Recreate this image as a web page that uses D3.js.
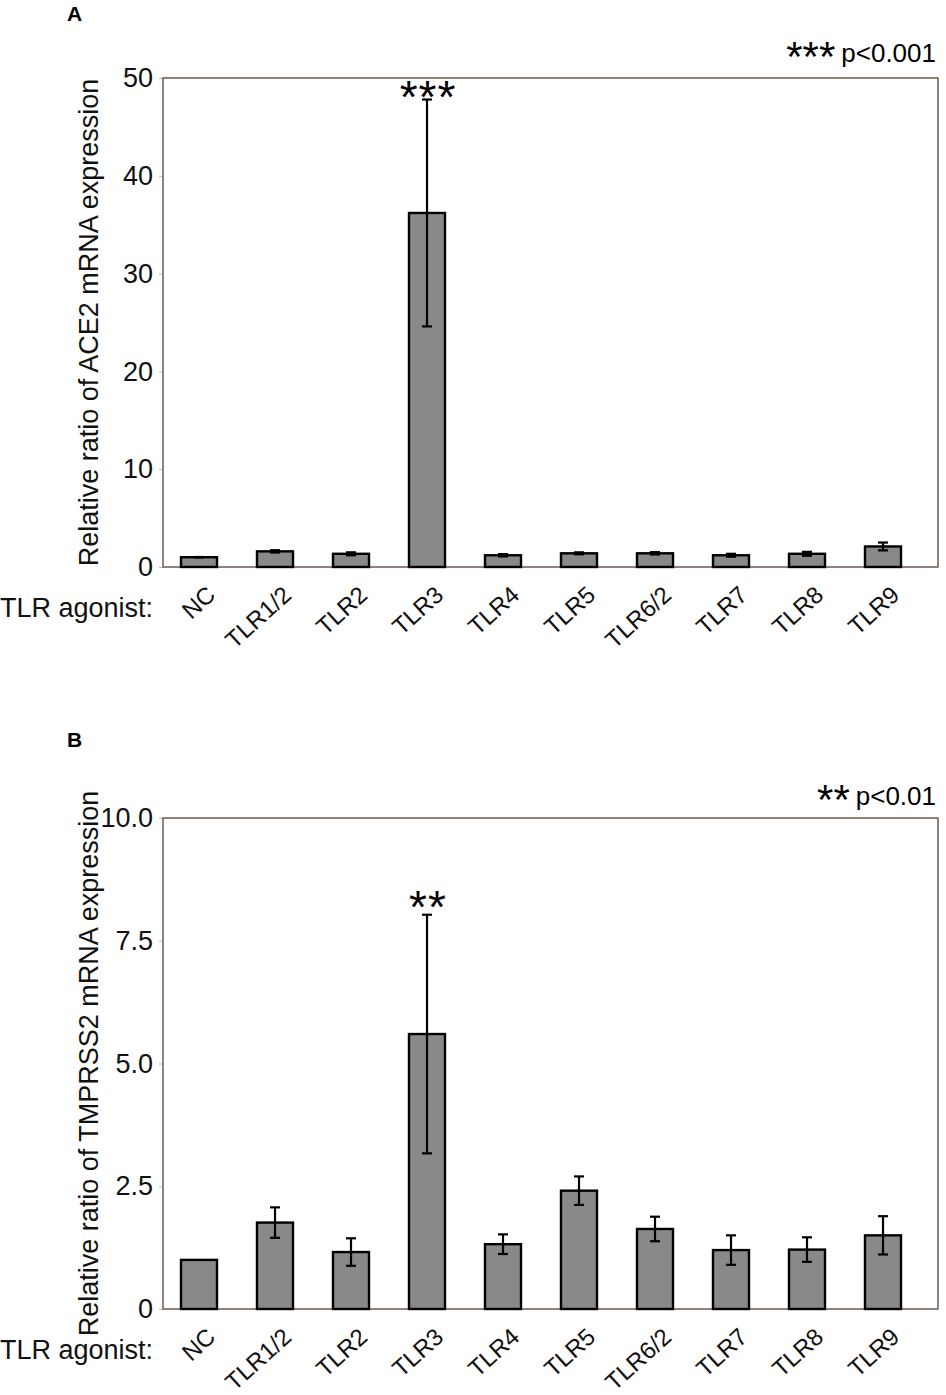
<!DOCTYPE html>
<html>
<head>
<meta charset="utf-8">
<script src="https://cdn.jsdelivr.net/npm/d3@7"></script>
<style>
  body { margin: 0; background: #fff; }
  svg { display: block; font-family: "Liberation Sans", Arial, sans-serif; }
</style>
</head>
<body>
<svg id="chart" width="946" height="1395"></svg>
<script>
// categories shared by both panels
const agonists = ['NC', 'TLR1/2', 'TLR2', 'TLR3', 'TLR4', 'TLR5', 'TLR6/2', 'TLR7', 'TLR8', 'TLR9']

// panel A: ACE2
const ace2Mean = [1.0, 1.6, 1.35, 36.2, 1.2, 1.4, 1.4, 1.2, 1.35, 2.1]
const ace2Err = [0.02, 0.12, 0.15, 11.6, 0.12, 0.1, 0.12, 0.15, 0.2, 0.4]
const ace2Ticks = [0, 10, 20, 30, 40, 50]

// panel B: TMPRSS2
const tmprssMean = [1.0, 1.76, 1.16, 5.6, 1.32, 2.41, 1.63, 1.2, 1.21, 1.5]
const tmprssErr = [0.0, 0.31, 0.28, 2.43, 0.2, 0.29, 0.25, 0.3, 0.25, 0.39]
const tmprssTicks = [0, 2.5, 5.0, 7.5, 10.0]

const svg = d3.select('#chart')
const frameColor = '#6e5b4e'
const fs = 27

function drawPanel(opts) {
    const { top, bottom, letter, letterY, yMax, ticks, fmt, means, errs, title, sigIndex, stars, starOffset, pText, pBaseline } = opts
    const left = 163, right = 938

    const x = d3.scalePoint().domain(agonists).range([161, 921]).padding(0.5)
    const y = d3.scaleLinear().domain([0, yMax]).range([bottom, top])
    const barW = 36

    const g = svg.append('g')

    g.append('text')
        .attr('x', 67).attr('y', letterY)
        .attr('font-size', 21).attr('font-weight', 'bold')
        .text(letter)

    // y axis
    const yAxis = g.append('g')
        .attr('transform', `translate(${left},0)`)
        .call(d3.axisLeft(y).tickValues(ticks).tickFormat(fmt).tickSize(4).tickPadding(6))
    yAxis.select('.domain').remove()
    yAxis.selectAll('.tick line').attr('stroke', '#bbb')
    yAxis.selectAll('.tick text').attr('font-size', fs).attr('fill', '#111')
        .attr('font-family', '"Liberation Sans", Arial, sans-serif')

    // frame
    g.append('rect')
        .attr('x', left).attr('y', top)
        .attr('width', right - left).attr('height', bottom - top)
        .attr('fill', 'none').attr('stroke', frameColor).attr('stroke-width', 1.5)

    // bars
    g.append('g').selectAll('rect')
        .data(agonists)
        .join('rect')
        .attr('x', d => x(d) - barW / 2)
        .attr('y', (d, i) => y(means[i]))
        .attr('width', barW)
        .attr('height', (d, i) => y(0) - y(means[i]))
        .attr('fill', '#898989')
        .attr('stroke', '#000')
        .attr('stroke-width', 2.4)

    // error bars
    const eb = g.append('g').attr('stroke', '#000').attr('stroke-width', 2.2)
    agonists.forEach((d, i) => {
        if (!errs[i]) return
        const cx = x(d)
        const y1 = y(means[i] + errs[i]), y2 = y(means[i] - errs[i])
        eb.append('line').attr('x1', cx).attr('x2', cx).attr('y1', y1).attr('y2', y2)
        eb.append('line').attr('x1', cx - 5).attr('x2', cx + 5).attr('y1', y1).attr('y2', y1)
        eb.append('line').attr('x1', cx - 5).attr('x2', cx + 5).attr('y1', y2).attr('y2', y2)
    })

    // significance stars above bar
    const sx = x(agonists[sigIndex])
    g.append('text')
        .attr('x', sx + 1).attr('y', y(means[sigIndex] + errs[sigIndex]) + starOffset)
        .attr('text-anchor', 'middle')
        .attr('font-size', 46)
        .attr('letter-spacing', 1)
        .text(stars)

    // p legend
    const leg = g.append('text')
        .attr('x', 936).attr('y', pBaseline)
        .attr('text-anchor', 'end')
    leg.append('tspan').attr('font-size', 42).attr('dy', 9).text(stars)
    leg.append('tspan').attr('font-size', 26).attr('dy', -9).attr('dx', 6).text(pText)

    // y title
    g.append('text')
        .attr('transform', 'rotate(-90)')
        .attr('x', -(top + bottom) / 2)
        .attr('y', 98)
        .attr('text-anchor', 'middle')
        .attr('font-size', fs)
        .attr('fill', '#111')
        .text(title)

    // x labels
    g.append('text')
        .attr('x', 0).attr('y', bottom + 50)
        .attr('font-size', fs)
        .attr('fill', '#111')
        .text('TLR agonist:')

    g.append('g').selectAll('text')
        .data(agonists)
        .join('text')
        .attr('transform', d => `translate(${x(d) + 18},${bottom + 30}) rotate(-42)`)
        .attr('text-anchor', 'end')
        .attr('font-size', 24)
        .attr('fill', '#111')
        .text(d => d)
}

drawPanel({
    top: 78, bottom: 567, letter: 'A', letterY: 21, yMax: 50,
    ticks: ace2Ticks, fmt: d3.format('d'),
    means: ace2Mean, errs: ace2Err,
    title: 'Relative ratio of ACE2 mRNA expression',
    sigIndex: 3, stars: '***', starOffset: 13, pText: 'p<0.001', pBaseline: 62
})

drawPanel({
    top: 818, bottom: 1309, letter: 'B', letterY: 747, yMax: 10,
    ticks: tmprssTicks, fmt: d => d === 0 ? '0' : d3.format('.1f')(d),
    means: tmprssMean, errs: tmprssErr,
    title: 'Relative ratio of TMPRSS2 mRNA expression',
    sigIndex: 3, stars: '**', starOffset: 8, pText: 'p<0.01', pBaseline: 805
})
</script>
</body>
</html>
